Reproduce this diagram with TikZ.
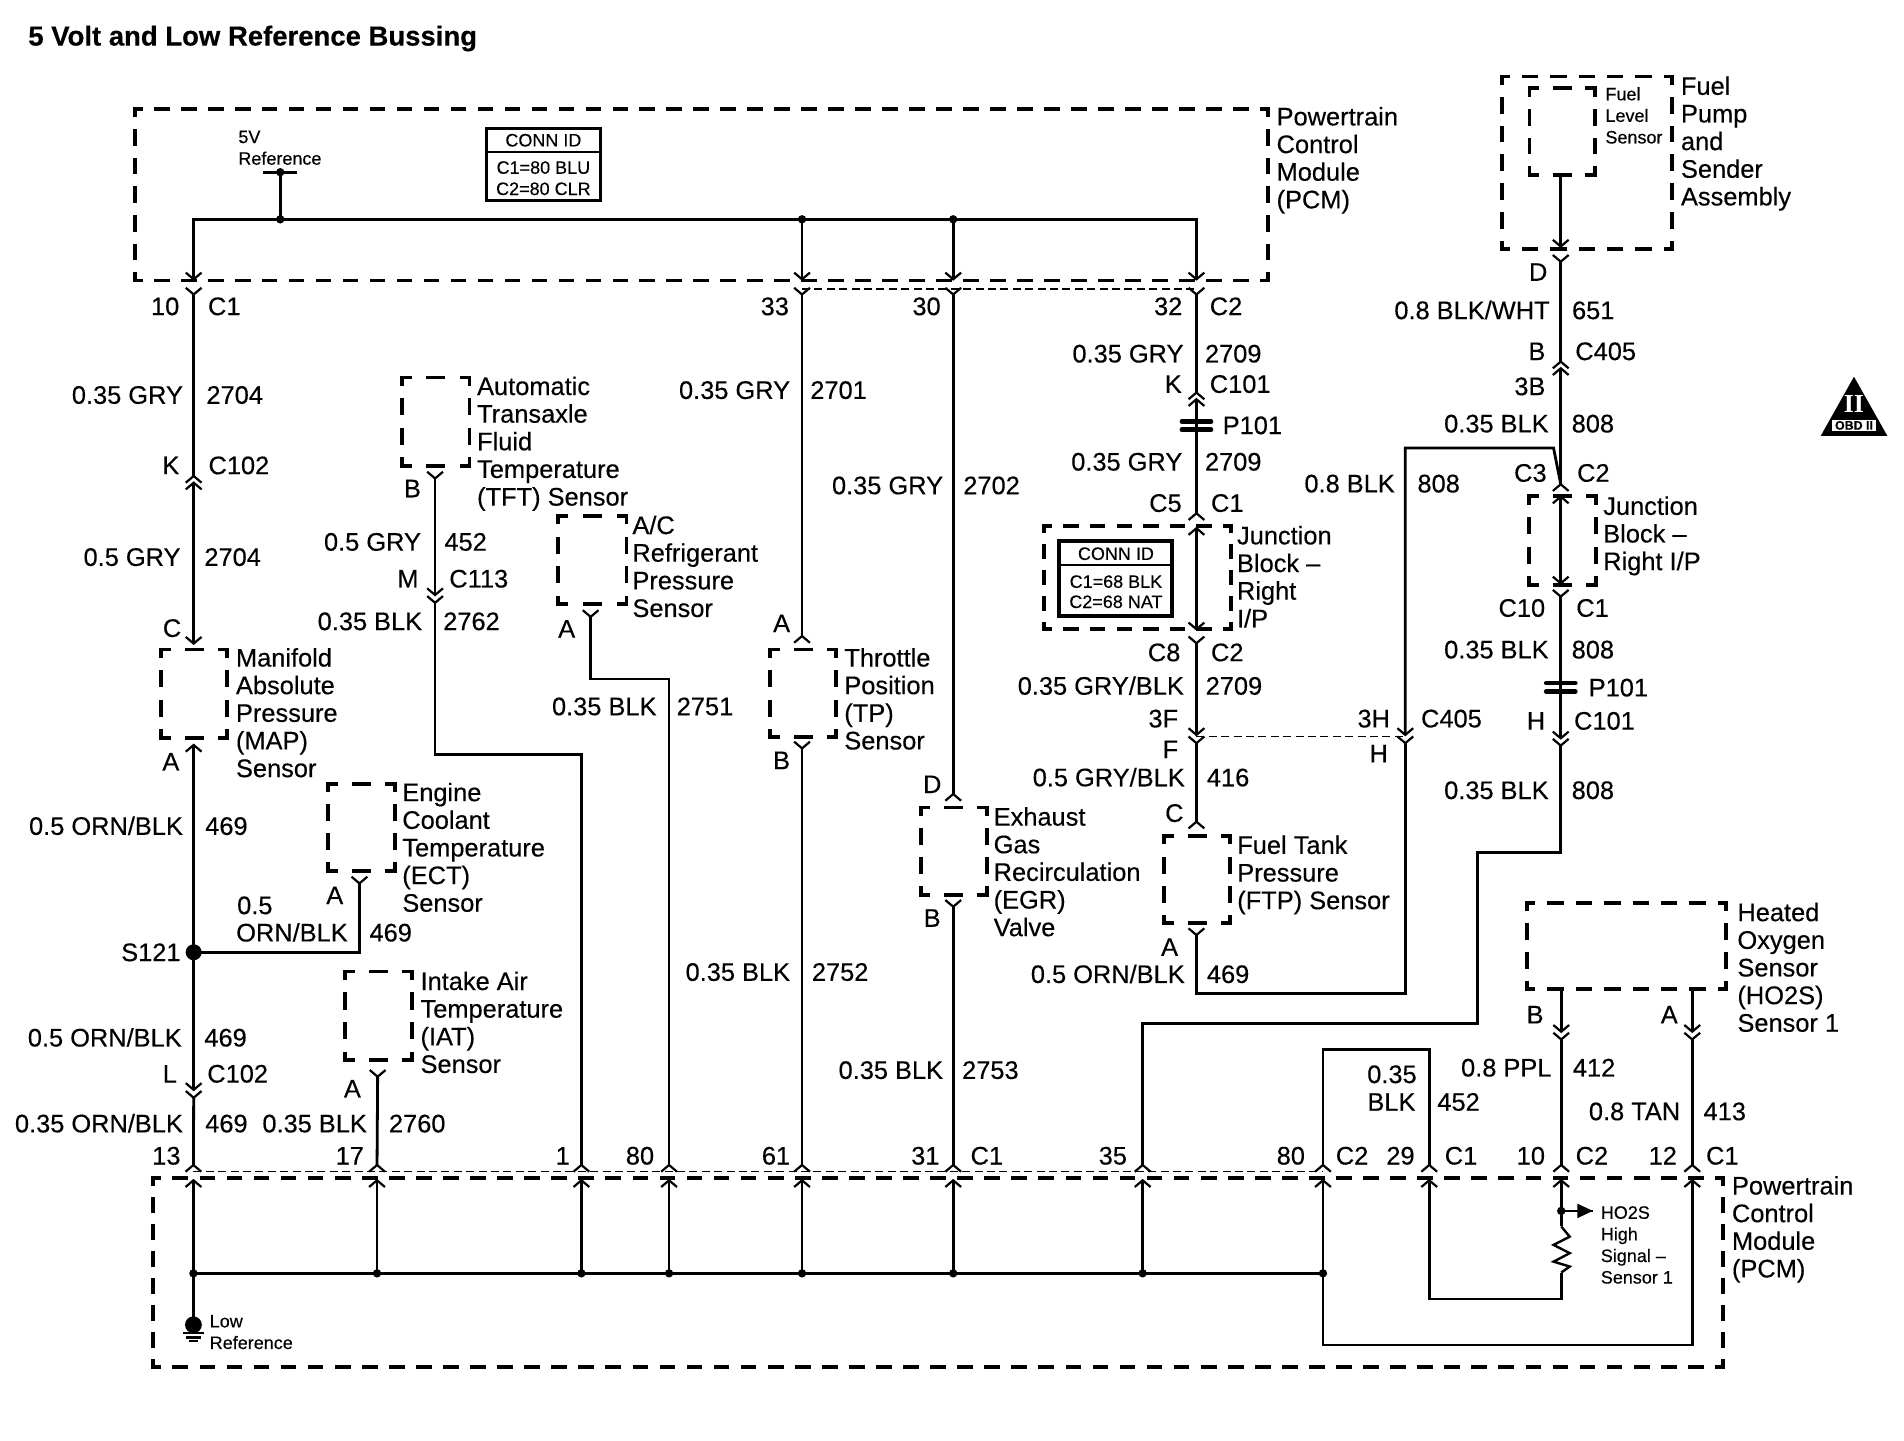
\documentclass[tikz,border=0pt]{standalone}
\usepackage{fontspec}
\setmainfont[FakeBold=0.3]{Liberation Sans}
\newfontfamily\serifb{Liberation Serif}
\usetikzlibrary{calc}
\newcount\tc
\def\bw{1.9}
\tikzset{
  wire/.style={line width=1.4pt,line join=miter},
  chev/.style={line width=1.1pt},
  thin dash/.style={line width=0.7pt,dash pattern=on 4pt off 2.2pt},
  lab/.style={inner sep=0pt,font=\fontsize{12.7}{13.82}\selectfont},
  blk/.style={inner sep=0pt,anchor=north west,align=left,font=\fontsize{12.7}{13.82}\selectfont},
  sml/.style={inner sep=0pt,anchor=north west,align=left,font=\fontsize{9}{10.8}\selectfont},
  smc/.style={inner sep=0pt,font=\fontsize{9}{10.8}\selectfont},
  jdot/.style={circle,fill=black,inner sep=0pt,minimum size=4.2pt},
  boxline/.style={line width=\bw pt,line cap=rect}
}
\newcommand\TE[3]{\global\advance\tc by 1 \node[lab,anchor=base east] (te\the\tc) at (#1,#2+7.5) {#3};}
\newcommand\TW[3]{\global\advance\tc by 1 \node[lab,anchor=base west] (tw\the\tc) at (#1,#2+7.5) {#3};}
\newcommand\BK[4]{\node[blk] (#1) at (#2,#3-8.2) {#4};}
\newcommand\BS[4]{\node[sml] (#1) at (#2,#3-5.3) {#4};}
\newcommand\PD[3]{\coordinate (#1) at (#2,#3); \draw[chev] (#1) +(-6.5,-5.5) -- +(0,0) -- +(6.5,-5.5);}
\newcommand\PU[3]{\coordinate (#1) at (#2,#3); \draw[chev] (#1) +(-6.5,5.5) -- +(0,0) -- +(6.5,5.5);}
\newcommand\dside[5]{%
  \pgfmathsetmacro\dP{veclen(#3-#1,#4-#2)/#5*0.60714}%
  \pgfmathsetmacro\dA{0.58*\dP-\bw}%
  \pgfmathsetmacro\dB{0.42*\dP+\bw}%
  \pgfmathsetmacro\dC{\dA/2}%
  \draw[boxline,dash pattern=on \dA pt off \dB pt,dash phase=\dC pt] (#1,#2) -- (#3,#4);}
\newcommand\dbox[7]{% name x1 y1 x2 y2 nx ny
  \coordinate (#1) at ($(#2,#3)!0.5!(#4,#5)$);
  \dside{#2}{#3}{#4}{#3}{#6}\dside{#2}{#5}{#4}{#5}{#6}%
  \dside{#2}{#3}{#2}{#5}{#7}\dside{#4}{#3}{#4}{#5}{#7}}
\newcommand\plug[3]{% name x y
  \coordinate (#1) at (#2,#3);
  \draw[line width=2.3pt,line cap=round] ($(#1)+(-12,-3.4)$) -- ($(#1)+(12,-3.4)$);
  \draw[line width=2.3pt,line cap=round] ($(#1)+(-12,3.4)$) -- ($(#1)+(12,3.4)$);}
\begin{document}
\begin{tikzpicture}[x=0.60714pt,y=-0.60714pt]
\useasboundingbox (0,0) rectangle (1568,1185.9);
\fill[white] (0,0) rectangle (1568,1185.9);

% title
\node[inner sep=0pt,anchor=base west,font=\fontsize{13.75}{16}\selectfont\bfseries] (title) at (23,37.5) {5 Volt and Low Reference Bussing};

% boxes
\dbox{pcmtop}{111}{89.5}{1044}{231}{42}{6}
\dbox{pcmbot}{126.2}{970}{1418.8}{1125.5}{58}{7}
\dbox{fuelpump}{1236.7}{63}{1376.7}{205}{6}{6}
\dbox{fuellevel}{1259.5}{72.7}{1313.5}{144}{2}{3}
\dbox{tft}{331}{310.8}{386.6}{383.5}{2}{3}
\dbox{acr}{459.8}{424.7}{516}{497.7}{2}{3}
\dbox{map}{132.8}{534.8}{187}{607.5}{2}{3}
\dbox{ect}{270}{645.6}{325}{717}{2}{3}
\dbox{iat}{284}{800}{339.5}{873}{2}{3}
\dbox{tp}{634.4}{534.8}{688.5}{607.2}{2}{3}
\dbox{egr}{758.3}{665}{812.8}{737}{2}{3}
\dbox{ftp}{958.7}{688.5}{1013}{760.4}{2}{3}
\dbox{jb}{860}{432.9}{1013.6}{518.2}{7}{4}
\dbox{jbr}{1259}{408.4}{1314.3}{481.7}{2}{3}
\dbox{hos}{1257.5}{743.4}{1421.5}{814.7}{7}{3}

% top PCM interior
\coordinate (busL) at (159.5,180.6);
\coordinate (bar) at (230.8,141.8);
\coordinate (bus5) at (230.8,180.6);
\coordinate (bus33) at (660.5,180.6);
\coordinate (bus30) at (785,180.6);
\coordinate (busR) at (985.3,180.6);
\PD{a10}{159.5}{230}\PD{b10}{159.5}{242.5}
\PD{a33}{660.5}{230}\PD{b33}{660.5}{242.5}
\PD{a30}{785}{230}\PD{b30}{785}{242.5}
\PD{a32}{985.3}{230}\PD{b32}{985.3}{242.5}
\draw[wire] (a10) |- (busR) -- (a32);
\draw[wire] (bus33) -- (a33);
\draw[wire] (bus30) -- (a30);
\draw[wire] (bar) -- (bus5);
\draw[wire] ($(bar)+(-14,0)$) -- ($(bar)+(14,0)$);
\node[jdot] (d5a) at (bar) {};
\node[jdot] (d5b) at (bus5) {};
\node[jdot] (d33) at (bus33) {};
\node[jdot] (d30) at (bus30) {};
\coordinate (dtl) at (660.5,238);
\coordinate (dtr) at (985.3,238);
\draw[thin dash] (dtl) -- (dtr);

% bottom pins
\PU{t13}{159.3}{959.4}\PU{b13}{159.3}{972}
\PU{t17}{310.5}{959.4}\PU{b17}{310.5}{972}
\PU{t1}{478.8}{959.4}\PU{b1}{478.8}{972}
\PU{t80}{551}{959.4}\PU{b80}{551}{972}
\PU{t61}{660.5}{959.4}\PU{b61}{660.5}{972}
\PU{t31}{785}{959.4}\PU{b31}{785}{972}
\PU{t35}{941}{959.4}\PU{b35}{941}{972}
\PU{t80b}{1089.5}{959.4}\PU{b80b}{1089.5}{972}
\PU{t29}{1177}{959.4}\PU{b29}{1177}{972}
\PU{t10}{1285.7}{959.4}\PU{b10b}{1285.7}{972}
\PU{t12}{1393.6}{959.4}\PU{b12}{1393.6}{972}
\coordinate (dbl) at (159.3,964.5);
\coordinate (dbr) at (1089.5,964.5);
\draw[thin dash] (dbl) -- (dbr);

% bottom PCM interior
\coordinate (n13) at (159.3,1048.6);
\coordinate (n17) at (310.5,1048.6);
\coordinate (n1) at (478.8,1048.6);
\coordinate (n80) at (551,1048.6);
\coordinate (n61) at (660.5,1048.6);
\coordinate (n31) at (785,1048.6);
\coordinate (n35) at (941,1048.6);
\coordinate (n80b) at (1089.5,1048.6);
\coordinate (gnd) at (159.3,1091);
\coordinate (loopB) at (1089.5,1107.6);
\coordinate (rTop) at (1285.7,1010);
\coordinate (rBot) at (1285.7,1048);
\coordinate (rLow) at (1177,1069.7);
\coordinate (hi) at (1285.7,997.2);
\coordinate (hiEnd) at (1311.7,997.2);
\draw[wire] (n13) -- (n80b);
\draw[wire] (b13) -- (gnd);
\draw[wire] (b17) -- (n17);
\draw[wire] (b1) -- (n1);
\draw[wire] (b80) -- (n80);
\draw[wire] (b61) -- (n61);
\draw[wire] (b31) -- (n31);
\draw[wire] (b35) -- (n35);
\draw[wire] (b80b) |- (b80b |- loopB) -- (b12 |- loopB) -- (b12);
\draw[wire] (b29) |- (rBot |- rLow) -- (rBot);
\draw[wire] (b10b) -- (rTop);
\draw[wire,line width=1.2pt] (rTop) -- ++(7,8.4) -- ++(-13.3,6.8) -- ++(13.3,6.8) -- ++(-13.3,7) -- ++(13.3,4) -- (rBot);
\draw[wire] (hi) -- (hiEnd);
\fill (hiEnd) -- ++(-12.7,-6) -- ++(0,12) -- cycle;
\foreach \c/\n in {n13/e13,n17/e17,n1/e1,n80/e80,n61/e61,n31/e31,n35/e35,n80b/e80b,hi/ehi}
  \node[jdot] (\n) at (\c) {};
\node[circle,fill=black,inner sep=0pt,minimum size=8.4pt] (gdot) at (gnd) {};
\coordinate (g1) at (159.3,1098);
\coordinate (g2) at (159.3,1101.4);
\coordinate (g3) at (159.3,1104.6);
\draw[line width=1.1pt] ($(g1)+(-9,0)$) -- ($(g1)+(9,0)$);
\draw[line width=1.1pt] ($(g2)+(-6.3,0)$) -- ($(g2)+(6.3,0)$);
\draw[line width=1.1pt] ($(g3)+(-3.4,0)$) -- ($(g3)+(3.4,0)$);

% left column
\PU{k1}{159.5}{392}\PU{k2}{159.5}{397.5}
\PD{mapc}{159.5}{530}\PU{mapa}{159.5}{613.5}
\coordinate (s121) at (159.5,784.2);
\PD{l1}{159.5}{897.5}\PD{l2}{159.5}{904}
\draw[wire] (b10) -- (k1);
\draw[wire] (k2) -- (mapc);
\draw[wire] (mapa) -- (l1);
\draw[wire] (l2) -- (t13);
\node[circle,fill=black,inner sep=0pt,minimum size=8pt] (ds121) at (s121) {};
\PD{ecta}{296}{727.5}
\draw[wire] (ecta) |- (s121);
\PD{iata}{311}{886.7}
\draw[wire] (iata) -- (t17);

% TFT
\PD{tftb}{358.3}{394}\PD{m1}{358.3}{490}\PD{m2}{358.3}{496.4}
\draw[wire] (tftb) -- (m1);
\draw[wire] (m2) -- ++(0,124.8) -| (t1);
% A/C
\PD{aca}{486.4}{508}
\draw[wire] (aca) -- ++(0,51.2) -| (t80);
% TP
\PU{tpa}{660.5}{523.8}\PD{tpb}{660.5}{616.3}
\draw[wire] (b33) -- (tpa);
\draw[wire] (tpb) -- (t61);
% EGR
\PU{egd}{785}{653.9}\PD{egb}{785}{746.7}
\draw[wire] (b30) -- (egd);
\draw[wire] (egb) -- (t31);
% 2709 column
\PU{ck1}{985.3}{323.3}\PU{ck2}{985.3}{328.8}
\PU{c5}{985.3}{422.7}\PU{c5b}{985.3}{435}
\PD{c8a}{985.3}{518.2}\PD{c8b}{985.3}{529.7}
\PD{f1}{985.3}{605.2}\PD{f2}{985.3}{612}
\PU{ftpc}{985.3}{676.7}\PD{ftpa}{985.3}{770}
\draw[wire] (b32) -- (ck1);
\draw[wire] (ck2) -- (c5);
\draw[wire] (c5b) -- (c8a);
\draw[wire] (c8b) -- (f1);
\draw[wire] (f2) -- (ftpc);
\plug{p101a}{985.3}{350.5}
% H / 808
\PD{h1}{1157.3}{605.2}\PD{h2}{1157.3}{612}
\draw[wire] (ftpa) -- ++(0,48) -| (h2);
\coordinate (dml) at (985.3,606.5);
\coordinate (dmr) at (1157.3,606.5);
\draw[thin dash] (dml) -- (dmr);
% fuel pump column
\coordinate (flb) at (1285.3,144);
\PD{fd1}{1285.3}{203}\PD{fd2}{1285.3}{215.5}
\PU{cb1}{1285.3}{297.8}\PU{cb2}{1285.3}{303.3}
\PU{c3}{1285.3}{398.8}\PU{j1}{1285.3}{409}
\PD{j2}{1285.3}{480.4}\PD{j3}{1285.3}{491.3}
\PD{h3}{1285.3}{608}\PD{h4}{1285.3}{614}
\draw[wire] (flb) -- (fd1);
\draw[wire] (fd2) -- (cb1);
\draw[wire] (cb2) -- (c3);
\draw[wire] (j1) -- (j2);
\draw[wire] (j3) -- (h3);
\plug{p101b}{1285.3}{566}
\coordinate (jog1) at (1157.3,369);
\coordinate (jog2) at (1279.4,369);
\draw[wire] (h1) -- (jog1) -- (jog2) -- (c3);
\coordinate (jA) at (1216.5,702);
\coordinate (jB) at (1216.5,842.7);
\draw[wire] (h4) |- (jA) -- (jB) -| (t35);
% loop 452
\draw[wire] (t80b) -- ++(0,-95.4) -| (t29);
% HO2S
\coordinate (hosb) at (1285.7,815);
\coordinate (hosa) at (1393.6,815);
\PD{o1}{1285.7}{849.6}\PD{o2}{1285.7}{856}
\PD{o3}{1393.6}{849.6}\PD{o4}{1393.6}{856}
\draw[wire] (hosb) -- (o1);
\draw[wire] (o2) -- (t10);
\draw[wire] (hosa) -- (o3);
\draw[wire] (o4) -- (t12);

% CONN ID boxes
\draw[line width=1.5pt] (400.5,105.5) rectangle (494.5,165.5);
\draw[line width=1pt] (400.5,124.8) -- (494.5,124.8);
\node[smc] (cid1) at (447.5,115.5) {CONN ID};
\node[smc] (cid2) at (447.5,138) {C1=80 BLU};
\node[smc] (cid3) at (447.5,155.5) {C2=80 CLR};
\draw[line width=2.1pt] (872.4,445.5) rectangle (965,507.2);
\draw[line width=1.2pt] (872.4,465.2) -- (965,465.2);
\node[smc] (cid4) at (919,456) {CONN ID};
\node[smc] (cid5) at (919,479) {C1=68 BLK};
\node[smc] (cid6) at (919,495.6) {C2=68 NAT};

% block labels
\BK{lpcmt}{1051}{96}{Powertrain\\Control\\Module\\(PCM)}
\BK{lpcmb}{1426}{976.4}{Powertrain\\Control\\Module\\(PCM)}
\BK{lfp}{1384}{70.8}{Fuel\\Pump\\and\\Sender\\Assembly}
\BK{ltft}{392.6}{318}{Automatic\\Transaxle\\Fluid\\Temperature\\(TFT) Sensor}
\BK{lacr}{520.5}{432.5}{A/C\\Refrigerant\\Pressure\\Sensor}
\BK{lmap}{194}{541.6}{Manifold\\Absolute\\Pressure\\(MAP)\\Sensor}
\BK{lect}{331}{652.5}{Engine\\Coolant\\Temperature\\(ECT)\\Sensor}
\BK{liat}{346}{808}{Intake Air\\Temperature\\(IAT)\\Sensor}
\BK{ltp}{695}{541.6}{Throttle\\Position\\(TP)\\Sensor}
\BK{legr}{818}{672.6}{Exhaust\\Gas\\Recirculation\\(EGR)\\Valve}
\BK{lftp}{1018.6}{695.9}{Fuel Tank\\Pressure\\(FTP) Sensor}
\BK{ljb}{1018.4}{441}{Junction\\Block –\\Right\\I/P}
\BK{ljbr}{1320}{416.7}{Junction\\Block –\\Right I/P}
\BK{lhos}{1430.5}{751.3}{Heated\\Oxygen\\Sensor\\(HO2S)\\Sensor 1}
\BS{l5v}{196}{112.6}{5V\\Reference}
\BS{llow}{172.4}{1087.9}{Low\\Reference}
\BS{lfl}{1321.8}{76.8}{Fuel\\Level\\Sensor}
\BS{lhi}{1318}{998.3}{HO2S\\High\\Signal –\\Sensor 1}

% pin / wire labels, column 1
\TE{148}{252}{10}\TW{171}{252}{C1}
\TE{151}{325}{0.35 GRY}\TW{169.7}{325}{2704}
\TE{148}{383}{K}\TW{171.4}{383}{C102}
\TE{149}{458.5}{0.5 GRY}\TW{168}{458.5}{2704}
\TE{149.6}{517}{C}
\TE{148}{627}{A}
\TE{151}{680}{0.5 ORN/BLK}\TW{168.7}{680}{469}
\TE{149}{784}{S121}
\TE{150}{854.3}{0.5 ORN/BLK}\TW{168}{854.3}{469}
\TE{146}{884}{L}\TW{170.4}{884}{C102}
\TE{151}{925}{0.35 ORN/BLK}\TW{168.7}{925}{469}
\TE{149}{951.5}{13}
% ECT, IAT
\TE{283}{737}{A}
\node[lab,anchor=base west] (lorn) at (195,752.8) {0.5};
\TE{286.7}{767.8}{ORN/BLK}\TW{304}{767.8}{469}
\TE{297.5}{896.3}{A}
\TE{302.5}{925}{0.35 BLK}\TW{320}{925}{2760}
\TE{300}{951.5}{17}
% TFT, A/C
\TE{347}{402}{B}
\TE{347}{446}{0.5 GRY}\TW{365.7}{446}{452}
\TE{345}{476.3}{M}\TW{369.7}{476.3}{C113}
\TE{348}{511.4}{0.35 BLK}\TW{364.7}{511.4}{2762}
\TE{474}{517.5}{A}
\TE{541}{581.5}{0.35 BLK}\TW{557}{581.5}{2751}
\TE{469.6}{951.5}{1}
\TE{539}{951.5}{80}
% TP
\TE{650}{252}{33}
\TE{651}{321}{0.35 GRY}\TW{667}{321}{2701}
\TE{651}{513}{A}
\TE{651}{625.9}{B}
\TE{651}{800.2}{0.35 BLK}\TW{668.3}{800.2}{2752}
\TE{651}{951.5}{61}
% EGR
\TE{775}{252}{30}
\TE{777}{399.5}{0.35 GRY}\TW{793}{399.5}{2702}
\TE{775.6}{645.6}{D}
\TE{775}{755.7}{B}
\TE{777}{881}{0.35 BLK}\TW{792}{881}{2753}
\TE{774}{951.5}{31}\TW{799}{951.5}{C1}
% 2709 column
\TE{974}{252}{32}\TW{996}{252}{C2}
\TE{975}{291}{0.35 GRY}\TW{992}{291}{2709}
\TE{973.5}{316}{K}\TW{996}{316}{C101}
\TW{1006.6}{350}{P101}
\TE{974}{380}{0.35 GRY}\TW{992}{380}{2709}
\TE{973.5}{414}{C5}\TW{997}{414}{C1}
\TE{972.4}{537}{C8}\TW{997}{537}{C2}
\TE{975.3}{564.6}{0.35 GRY/BLK}\TW{992.6}{564.6}{2709}
\TE{970.5}{591.5}{3F}
\TE{970.5}{616.8}{F}
\TE{976}{640}{0.5 GRY/BLK}\TW{993.6}{640}{416}
\TE{975}{669.3}{C}
\TE{970.5}{779.6}{A}
\TE{976}{802}{0.5 ORN/BLK}\TW{993.6}{802}{469}
% 808
\TE{1149}{398}{0.8 BLK}\TW{1167}{398}{808}
\TE{1145}{591.5}{3H}\TW{1170}{591.5}{C405}
\TE{1143.3}{620.3}{H}
% fuel column
\TE{1274.6}{223.7}{D}
\TE{1276.5}{255.3}{0.8 BLK/WHT}\TW{1294.3}{255.3}{651}
\TE{1273}{289}{B}\TW{1297}{289}{C405}
\TE{1273}{317.9}{3B}
\TE{1275.7}{348.6}{0.35 BLK}\TW{1294}{348.6}{808}
\TE{1274}{389.2}{C3}\TW{1298.5}{389.2}{C2}
\TE{1272.8}{500.4}{C10}\TW{1297.8}{500.4}{C1}
\TE{1275.7}{534.7}{0.35 BLK}\TW{1294}{534.7}{808}
\TW{1308}{566}{P101}
\TE{1272.8}{593.4}{H}\TW{1296}{593.4}{C101}
\TE{1275.7}{650.5}{0.35 BLK}\TW{1294}{650.5}{808}
% HO2S / bottom right
\TE{1271.5}{835.3}{B}\TE{1382}{835.3}{A}
\TE{1278}{879}{0.8 PPL}\TW{1295}{879}{412}
\TE{1167}{884.4}{0.35}
\TE{1166}{907.2}{BLK}\TW{1183.4}{907.2}{452}
\TE{1384}{915}{0.8 TAN}\TW{1402.6}{915}{413}
\TE{928.4}{951.5}{35}
\TE{1075}{951.5}{80}\TW{1099.8}{951.5}{C2}
\TE{1165.3}{951.5}{29}\TW{1189.5}{951.5}{C1}
\TE{1272.7}{951.5}{10}\TW{1297.3}{951.5}{C2}
\TE{1381.3}{951.5}{12}\TW{1404.7}{951.5}{C1}

% OBD II badge
\fill[black] (1526.8,310.2) -- (1554.3,359) -- (1499.4,359) -- cycle;
\node[inner sep=0pt,text=white,font=\fontsize{13}{13}\selectfont\serifb\bfseries] (obd2a) at (1526.8,332.5) {II};
\fill[white] (1509,345.5) rectangle (1544.6,355);
\node[inner sep=0pt,font=\fontsize{6.2}{7}\selectfont\bfseries] (obd2b) at (1526.8,350.3) {OBD II};
\end{tikzpicture}
\end{document}
